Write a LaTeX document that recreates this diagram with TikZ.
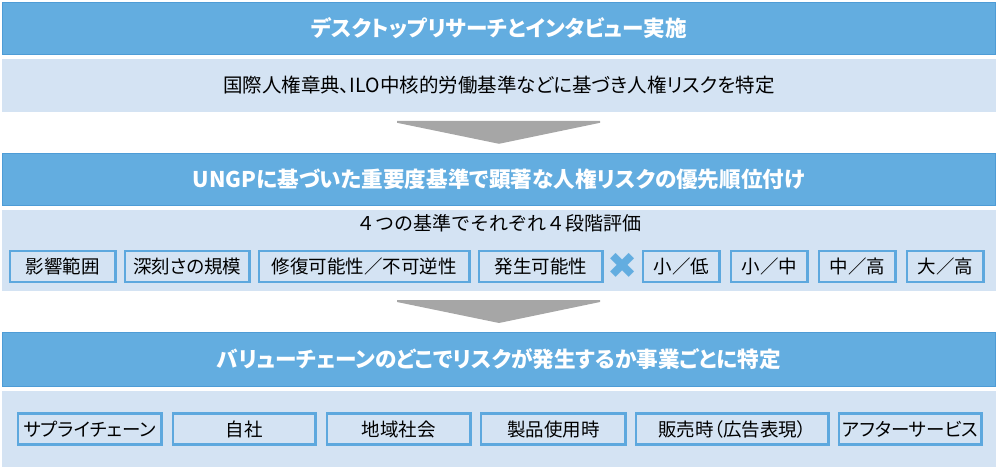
\documentclass[tikz,border=0pt]{standalone}
\usepackage{fontspec}
\setmainfont{Noto Sans CJK JP}[CharacterWidth=AlternateProportional]
\newfontfamily\jpvoll{Noto Sans CJK JP}
\newfontfamily\symb{DejaVu Sans}
\usetikzlibrary{positioning}
\definecolor{hblau}{RGB}{99,173,224}
\definecolor{hrand}{RGB}{78,156,214}
\definecolor{hell}{RGB}{212,227,243}
\definecolor{kblau}{RGB}{93,168,222}
\definecolor{grau}{RGB}{166,166,166}
\tikzset{
  kopf/.style={fill=hblau,draw=hrand,line width=.8pt,text=white,
    font=\bfseries\fontsize{21.6}{21.6}\selectfont,
    minimum width=993pt,minimum height=#1,inner sep=0pt},
  kopf/.default=52pt,
  feld/.style={fill=hell,minimum width=994pt,minimum height=#1,inner sep=0pt,
    font=\fontsize{19.5}{19.5}\selectfont},
  feld/.default=53pt,% voreingestellte Hoehe
  kasten/.style={draw=kblau,line width=2.5pt,fill=hell,inner sep=0pt,
    minimum width=#1,minimum height=31pt,font=\fontsize{18.5}{18.5}\selectfont},
  kasten/.default=143pt,
  pfeil/.style={fill=grau}
}
\begin{document}
\begin{tikzpicture}[x=1pt,y=1pt,
  % Abstand zwischen Kopfzeile und Feld bzw. zwischen den Kaesten:
  node distance=4pt and 7pt,
]
\useasboundingbox (0,0) rectangle (1000,469);
% Kopfzeilen und Felder
  \node (k1) [kopf] at (499,441) {デスクトップリサーチとインタビュー実施};
  \node (f1) [below=of k1,feld] {国際人権章典、ILO中核的労働基準などに基づき人権リスクを特定};
  \node (k2) [below=41pt of f1,kopf] {UNGPに基づいた重要度基準で顕著な人権リスクの優先順位付け};
  \node (f2) [below=of k2,feld=81pt] {};
  \node (k3) [below=41pt of f2,kopf=54pt] {バリューチェーンのどこでリスクが発生するか事業ごとに特定};
  \node (f3) [below=of k3,feld=76pt] {};
% Bewertung: Kriterien und Stufen
  \node (t2) [below=5pt of f2.north,inner sep=0pt,font=\jpvoll\fontsize{19}{19}\selectfont]
    {４つの基準でそれぞれ４段階評価};
  \node (e1) [kasten=105.5pt,above right=8pt and 7pt of f2.south west] {影響範囲};
  \node (e2) [kasten=124.5pt,right=of e1] {深刻さの規模};
  \node (e3) [kasten=210.5pt,right=of e2] {修復可能性／不可逆性};
  \node (e4) [kasten=123.5pt,right=of e3] {発生可能性};
  % Kreuz mittig zwischen e4 und e5
  \node (mal) [right=19pt of e4,anchor=center,text=hblau,inner sep=0pt,
    font=\symb\fontsize{36}{36}\selectfont] {✖};
  \node (e5) [kasten=76.5pt,right=38pt of e4] {小／低};
  \node (e6) [kasten=76.5pt,right=9pt of e5] {小／中};
  \node (e7) [kasten=76.5pt,right=9pt of e6] {中／高};
  \node (e8) [kasten=76.5pt,right=9pt of e7] {大／高};
% Wertschoepfungskette
  \node (o1) [kasten=143.5pt,right=15pt of f3.west] {サプライチェーン};
  \node (o2) [kasten=142.5pt,right=9pt of o1] {自社};
  \node (o3) [kasten=143.5pt,right=9pt of o2] {地域社会};
  \node (o4) [kasten=144.5pt,right=8pt of o3] {製品使用時};
  \node (o5) [kasten=192.5pt,right=8pt of o4] {販売時（広告表現）};
  \node (o6) [kasten=142.5pt,right=8pt of o5] {アフターサービス};
% Pfeile zwischen den Stufen
  \foreach \a/\b in {f1/k2,f2/k3}
    \fill[pfeil] ([xshift=-102pt,yshift=-9pt]\a.south) -- ([xshift=101pt,yshift=-9pt]\a.south)
      -- ([xshift=101pt,yshift=-11pt]\a.south) -- ([yshift=9pt]\b.north)
      -- ([xshift=-102pt,yshift=-11pt]\a.south) -- cycle;
\end{tikzpicture}
\end{document}
